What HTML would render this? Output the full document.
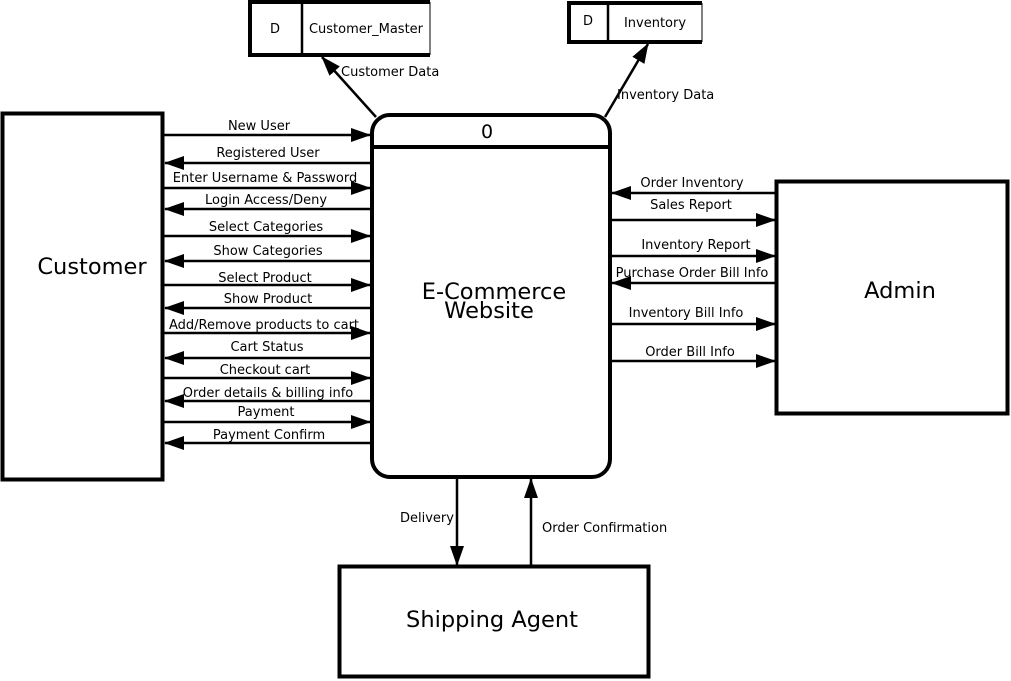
<!DOCTYPE html>
<html><head><meta charset="utf-8"><style>
html,body{margin:0;padding:0;background:#fff;}
svg{display:block;}
text{font-family:"DejaVu Sans","Liberation Sans",sans-serif;fill:#000;}
.s{font-size:13px;}
.b{font-size:22.5px;}
</style></head><body>
<svg width="1011" height="681" viewBox="0 0 1011 681" xmlns="http://www.w3.org/2000/svg">
<defs>
<marker id="a" markerWidth="20" markerHeight="14" refX="19" refY="7" orient="auto" markerUnits="userSpaceOnUse">
<path d="M0,0 L20,7 L0,14 z" fill="#000"/></marker>
</defs>
<g fill="none" stroke="#000">
<path d="M430,2 H250 V55 H430" stroke-width="4"/><line x1="430" y1="2" x2="430" y2="55" stroke-width="1"/>
<line x1="302" y1="2" x2="302" y2="55" stroke-width="2.5"/>
<path d="M702,3 H569 V42 H702" stroke-width="4"/><line x1="702" y1="3" x2="702" y2="42" stroke-width="1"/>
<line x1="608" y1="3" x2="608" y2="42" stroke-width="2.5"/>
</g>
<text class="s" x="275" y="33" text-anchor="middle">D</text>
<text class="s" x="366" y="33" text-anchor="middle">Customer_Master</text>
<text class="s" x="588" y="25" text-anchor="middle">D</text>
<text class="s" x="655" y="27" text-anchor="middle">Inventory</text>
<rect x="2.5" y="113.5" width="160" height="366" fill="none" stroke="#000" stroke-width="4"/>
<text class="b" x="92" y="274" text-anchor="middle">Customer</text>
<rect x="776.5" y="181.5" width="231" height="232" fill="none" stroke="#000" stroke-width="4"/>
<text class="b" x="900" y="298" text-anchor="middle">Admin</text>
<rect x="339.5" y="566.5" width="309" height="110" fill="none" stroke="#000" stroke-width="4"/>
<text class="b" x="492" y="627" text-anchor="middle">Shipping Agent</text>
<rect x="372" y="115" width="238" height="362" rx="18" ry="18" fill="none" stroke="#000" stroke-width="4"/>
<line x1="372" y1="147" x2="610" y2="147" stroke="#000" stroke-width="4"/>
<text style="font-size:19px" x="487" y="138" text-anchor="middle">0</text>
<text class="b" x="494" y="299" text-anchor="middle">E-Commerce</text>
<text class="b" x="489" y="318" text-anchor="middle">Website</text>
<g stroke="#000" stroke-width="2.5" marker-end="url(#a)">
<line x1="164" y1="135" x2="370" y2="135"/>
<line x1="370" y1="163" x2="165" y2="163"/>
<line x1="164" y1="188" x2="370" y2="188"/>
<line x1="370" y1="209" x2="165" y2="209"/>
<line x1="164" y1="236" x2="370" y2="236"/>
<line x1="370" y1="261" x2="165" y2="261"/>
<line x1="164" y1="285" x2="370" y2="285"/>
<line x1="370" y1="308" x2="165" y2="308"/>
<line x1="164" y1="333" x2="370" y2="333"/>
<line x1="370" y1="358" x2="165" y2="358"/>
<line x1="164" y1="378" x2="370" y2="378"/>
<line x1="370" y1="401" x2="165" y2="401"/>
<line x1="164" y1="422" x2="370" y2="422"/>
<line x1="370" y1="443" x2="165" y2="443"/>
<line x1="775" y1="193" x2="612" y2="193"/>
<line x1="611" y1="220" x2="775" y2="220"/>
<line x1="611" y1="256" x2="775" y2="256"/>
<line x1="775" y1="283" x2="612" y2="283"/>
<line x1="611" y1="324" x2="775" y2="324"/>
<line x1="611" y1="361" x2="775" y2="361"/>
<line x1="457" y1="478" x2="457" y2="565"/>
<line x1="531" y1="565" x2="531" y2="479"/>
<line x1="376" y1="117" x2="322" y2="57"/>
<line x1="605" y1="117" x2="648" y2="44"/>
</g>
<text class="s" x="259" y="130" text-anchor="middle">New User</text>
<text class="s" x="268" y="157" text-anchor="middle">Registered User</text>
<text class="s" x="265" y="182" text-anchor="middle">Enter Username &amp; Password</text>
<text class="s" x="266" y="204" text-anchor="middle">Login Access/Deny</text>
<text class="s" x="266" y="231" text-anchor="middle">Select Categories</text>
<text class="s" x="268" y="255" text-anchor="middle">Show Categories</text>
<text class="s" x="265" y="282" text-anchor="middle">Select Product</text>
<text class="s" x="268" y="303" text-anchor="middle">Show Product</text>
<text class="s" x="264" y="329" text-anchor="middle">Add/Remove products to cart</text>
<text class="s" x="267" y="351" text-anchor="middle">Cart Status</text>
<text class="s" x="265" y="374" text-anchor="middle">Checkout cart</text>
<text class="s" x="268" y="397" text-anchor="middle">Order details &amp; billing info</text>
<text class="s" x="266" y="416" text-anchor="middle">Payment</text>
<text class="s" x="269" y="439" text-anchor="middle">Payment Confirm</text>
<text class="s" x="692" y="187" text-anchor="middle">Order Inventory</text>
<text class="s" x="691" y="209" text-anchor="middle">Sales Report</text>
<text class="s" x="696" y="249" text-anchor="middle">Inventory Report</text>
<text class="s" x="692" y="277" text-anchor="middle">Purchase Order Bill Info</text>
<text class="s" x="686" y="317" text-anchor="middle">Inventory Bill Info</text>
<text class="s" x="690" y="356" text-anchor="middle">Order Bill Info</text>
<text class="s" x="400" y="522">Delivery</text>
<text class="s" x="542" y="532">Order Confirmation</text>
<text class="s" x="341" y="76">Customer Data</text>
<text class="s" x="617" y="99">Inventory Data</text>
</svg>
</body></html>
